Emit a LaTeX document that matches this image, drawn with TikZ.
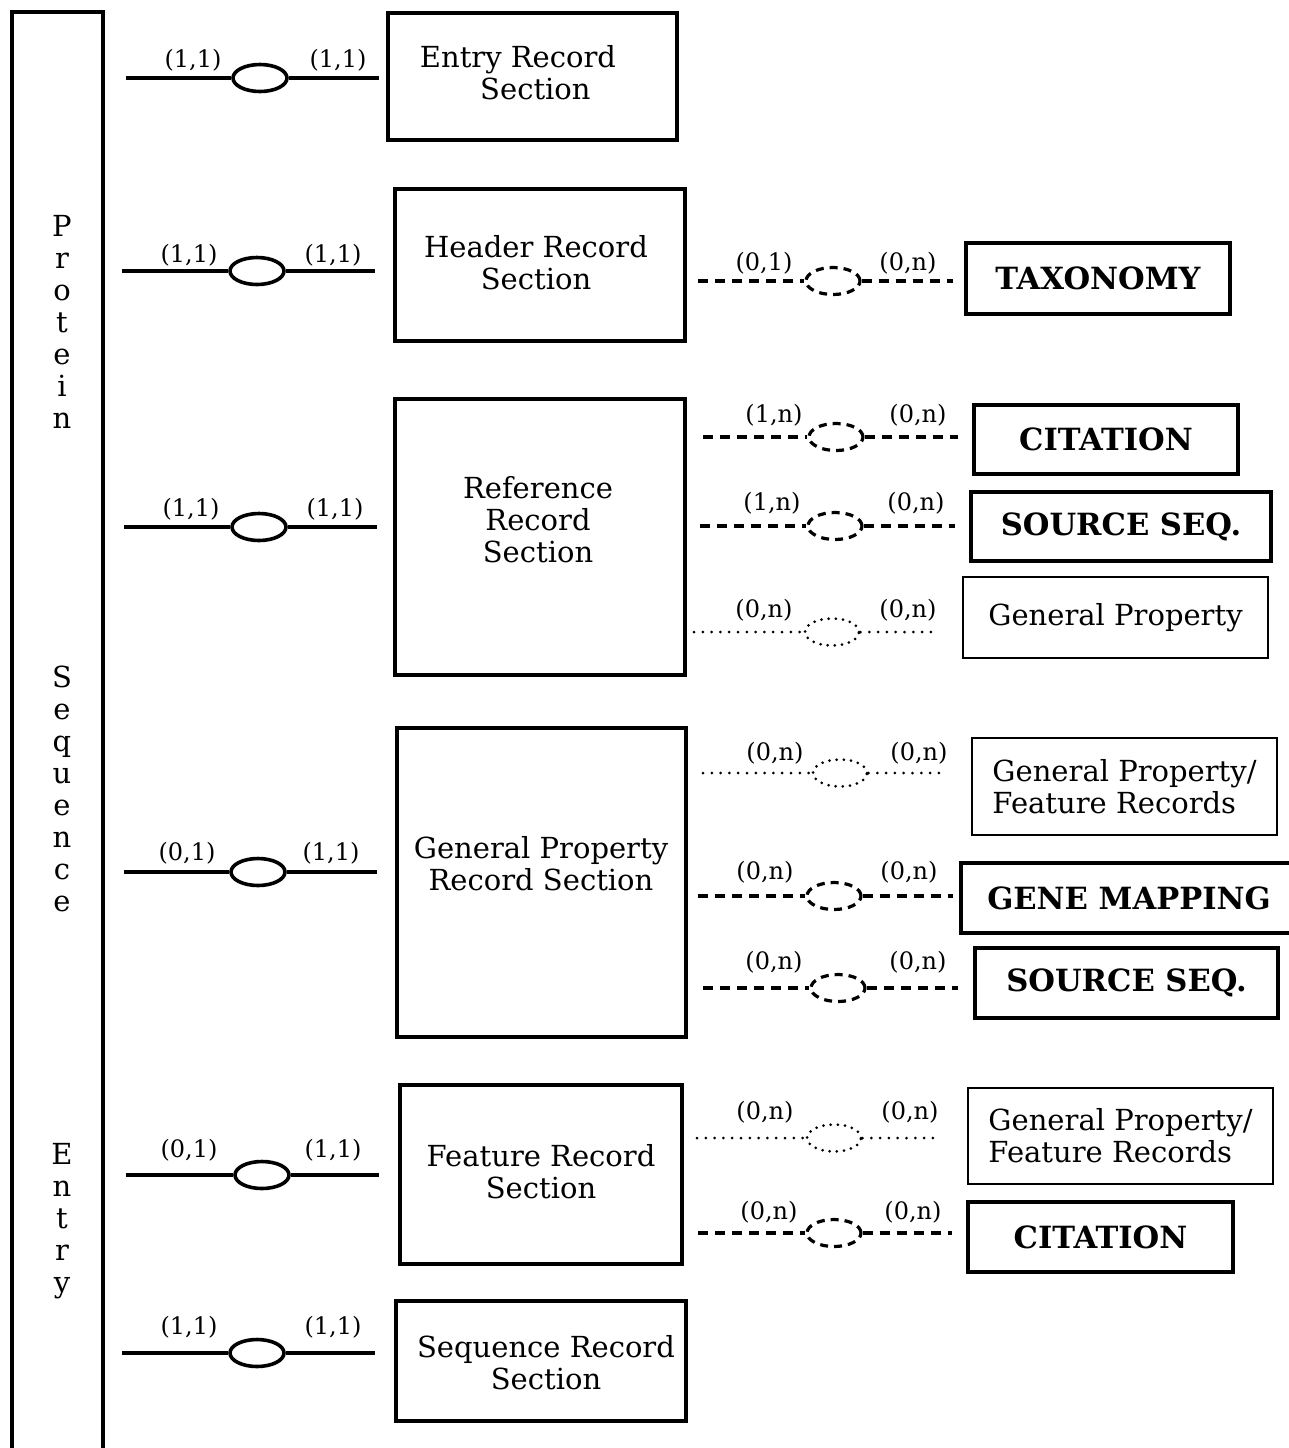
\documentclass[tikz,border=0pt]{standalone}
\usepackage{fontspec}
\setmainfont{DejaVu Serif}
\usetikzlibrary{shapes.geometric}

\tikzset{
  band/.style={line width=1.6pt},
  secbox/.style={draw, line width=2pt, inner sep=0pt},
  entbox/.style={draw, line width=2pt, inner sep=0pt, font=\fontsize{15.3}{16}\selectfont\bfseries},
  attbox/.style={draw, line width=1.2pt, inner sep=0pt, align=left, font=\fontsize{14.5}{16}\selectfont},
  txt/.style={font=\fontsize{14.5}{16}\selectfont, align=center, inner sep=0pt},
  rel/.style={draw, ellipse, line width=1.8pt, minimum width=27pt, minimum height=13.5pt, inner sep=0pt},
  drel/.style={rel, line width=1.6pt, dash pattern=on 4pt off 3pt},
  orel/.style={rel, line width=1.5pt, line cap=round, dash pattern=on 0pt off 3.6pt},
  link/.style={line width=1.8pt},
  dlink/.style={line width=1.6pt, dash pattern=on 5pt off 3.5pt},
  olink/.style={line width=1.5pt, line cap=round, dash pattern=on 0pt off 4.4pt},
  card/.style={font=\fontsize{12}{13}\selectfont, inner sep=0pt},
}

\begin{document}
\begin{tikzpicture}[x=0.5pt,y=-0.5pt]
\useasboundingbox (0,0) rectangle (1289,1448);

% side band with the vertical title
\draw[band] (12,1470) -- (12,12) -- (103,12) -- (103,1470);
\node[txt] (t1) at (62,322) {P\\r\\o\\t\\e\\i\\n};
\node[txt] (t2) at (62,789) {S\\e\\q\\u\\e\\n\\c\\e};
\node[txt] (t3) at (62,1221) {E\\n\\t\\r\\y};

% record sections
\node[secbox, minimum width=144.5pt, minimum height=63.5pt] (entry) at (532.5,76.5) {};
\node[txt] (entryT) at (518,73) {Entry Record\\\hspace*{1.2em}Section};
\node[secbox, minimum width=145pt, minimum height=76pt] (header) at (540,265) {};
\node[txt] (headerT) at (536,263) {Header Record\\Section};
\node[secbox, minimum width=145pt, minimum height=138pt] (ref) at (540,537) {};
\node[txt] (refT) at (538,520) {Reference\\Record\\Section};
\node[secbox, minimum width=144.5pt, minimum height=154.5pt] (gp) at (541.5,882.5) {};
\node[txt] (gpT) at (541,864) {General Property\\Record Section};
\node[secbox, minimum width=141pt, minimum height=89.5pt] (feat) at (541,1174.5) {};
\node[txt] (featT) at (541,1172) {Feature Record\\Section};
\node[secbox, minimum width=145pt, minimum height=60pt] (seq) at (541,1361) {};
\node[txt] (seqT) at (546,1363) {Sequence Record\\Section};

% links from the band to the sections
\coordinate (a1) at (126,78);  \node[rel] (r1) at (260,78) {};  \coordinate (b1) at (379,78);
\draw[link] (a1) -- (r1) -- (b1);
\node[card] at (193,60) {(1,1)}; \node[card] at (338,60) {(1,1)};

\coordinate (a2) at (122,271); \node[rel] (r2) at (257,271) {}; \coordinate (b2) at (375,271);
\draw[link] (a2) -- (r2) -- (b2);
\node[card] at (189,255) {(1,1)}; \node[card] at (333,255) {(1,1)};

\coordinate (a3) at (124,527); \node[rel] (r3) at (259,527) {}; \coordinate (b3) at (377,527);
\draw[link] (a3) -- (r3) -- (b3);
\node[card] at (191,509) {(1,1)}; \node[card] at (335,509) {(1,1)};

\coordinate (a4) at (124,872); \node[rel] (r4) at (258,872) {}; \coordinate (b4) at (377,872);
\draw[link] (a4) -- (r4) -- (b4);
\node[card] at (187,853) {(0,1)}; \node[card] at (331,853) {(1,1)};

\coordinate (a5) at (126,1175); \node[rel] (r5) at (262,1175) {}; \coordinate (b5) at (379,1175);
\draw[link] (a5) -- (r5) -- (b5);
\node[card] at (189,1150) {(0,1)}; \node[card] at (333,1150) {(1,1)};

\coordinate (a6) at (122,1353); \node[rel] (r6) at (257,1353) {}; \coordinate (b6) at (375,1353);
\draw[link] (a6) -- (r6) -- (b6);
\node[card] at (189,1327) {(1,1)}; \node[card] at (333,1327) {(1,1)};

% related entities
\node[entbox, minimum width=132pt, minimum height=35.5pt] (tax) at (1098,278.5) {TAXONOMY};
\node[entbox, minimum width=132pt, minimum height=34.5pt] (cit1) at (1106,439.5) {CITATION};
\node[entbox, minimum width=150pt, minimum height=34.5pt] (src1) at (1121,526.5) {SOURCE SEQ.};
\node[attbox, minimum width=152.5pt, minimum height=40.5pt] (gp1) at (1115.5,617.5) {General Property};
\node[attbox, minimum width=152.5pt, minimum height=48.5pt] (gp2) at (1124.5,786.5) {General Property/\\Feature Records};
\node[entbox, minimum width=168pt, minimum height=35pt] (gene) at (1129,898) {GENE MAPPING};
\node[entbox, minimum width=151.5pt, minimum height=35pt] (src2) at (1126.5,983) {SOURCE SEQ.};
\node[attbox, minimum width=152.5pt, minimum height=48pt] (gp3) at (1120.5,1136) {General Property/\\Feature Records};
\node[entbox, minimum width=132.5pt, minimum height=35pt] (cit2) at (1100.5,1237) {CITATION};

% optional links from the sections to the entities
\coordinate (c1) at (698,281); \node[drel] (q1) at (833,281) {}; \coordinate (d1) at (953,281);
\draw[dlink] (c1) -- (q1) -- (d1);
\node[card] at (764,263) {(0,1)}; \node[card] at (908,263) {(0,n)};

\coordinate (c2) at (703,437); \node[drel] (q2) at (836,437) {}; \coordinate (d2) at (958,437);
\draw[dlink] (c2) -- (q2) -- (d2);
\node[card] at (774,415) {(1,n)}; \node[card] at (918,415) {(0,n)};

\coordinate (c3) at (700,526); \node[drel] (q3) at (835,526) {}; \coordinate (d3) at (955,526);
\draw[dlink] (c3) -- (q3) -- (d3);
\node[card] at (772,503) {(1,n)}; \node[card] at (916,503) {(0,n)};

\coordinate (c4) at (694,632); \node[orel] (q4) at (832,632) {}; \coordinate (d4) at (938,632);
\draw[olink] (c4) -- (q4) -- (d4);
\node[card] at (764,610) {(0,n)}; \node[card] at (908,610) {(0,n)};

\coordinate (c5) at (703,773); \node[orel] (q5) at (840,773) {}; \coordinate (d5) at (946,773);
\draw[olink] (c5) -- (q5) -- (d5);
\node[card] at (775,753) {(0,n)}; \node[card] at (919,753) {(0,n)};

\coordinate (c6) at (698,896); \node[drel] (q6) at (834,896) {}; \coordinate (d6) at (953,896);
\draw[dlink] (c6) -- (q6) -- (d6);
\node[card] at (765,872) {(0,n)}; \node[card] at (909,872) {(0,n)};

\coordinate (c7) at (703,988); \node[drel] (q7) at (838,988) {}; \coordinate (d7) at (958,988);
\draw[dlink] (c7) -- (q7) -- (d7);
\node[card] at (774,962) {(0,n)}; \node[card] at (918,962) {(0,n)};

\coordinate (c8) at (697,1138); \node[orel] (q8) at (834,1138) {}; \coordinate (d8) at (940,1138);
\draw[olink] (c8) -- (q8) -- (d8);
\node[card] at (765,1112) {(0,n)}; \node[card] at (910,1112) {(0,n)};

\coordinate (c9) at (698,1233); \node[drel] (q9) at (834,1233) {}; \coordinate (d9) at (952,1233);
\draw[dlink] (c9) -- (q9) -- (d9);
\node[card] at (769,1212) {(0,n)}; \node[card] at (913,1212) {(0,n)};
\end{tikzpicture}
\end{document}
